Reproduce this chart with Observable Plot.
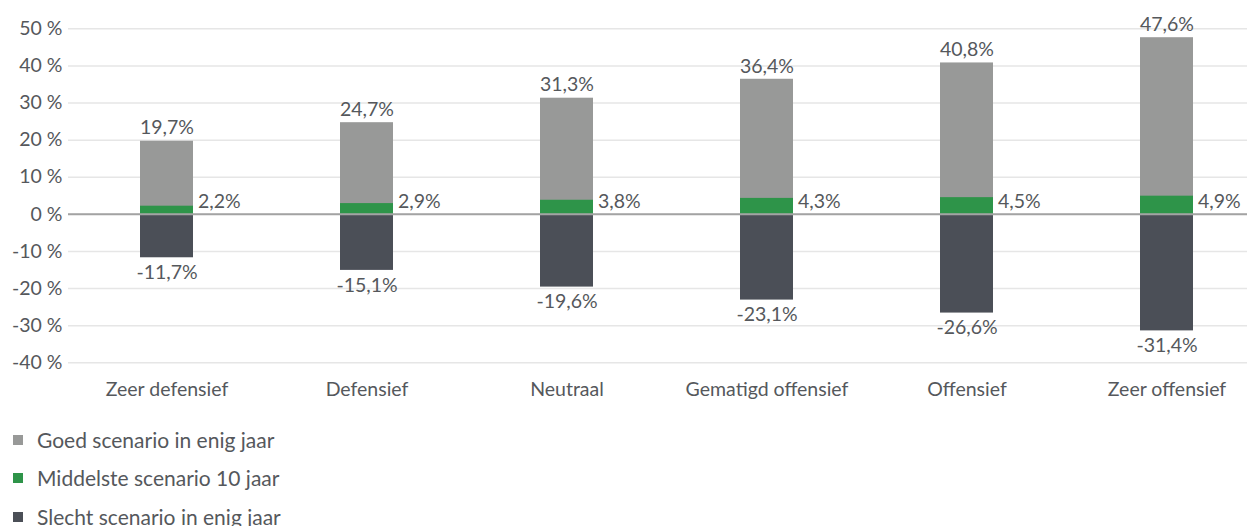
<!DOCTYPE html>
<html>
<head>
<meta charset="utf-8">
<script src="https://cdn.jsdelivr.net/npm/d3@7"></script>
<script src="https://cdn.jsdelivr.net/npm/@observablehq/plot@0.6"></script>
<style>
  html, body { margin: 0; padding: 0; background: #fff; }
  body { font-family: Lato, "Noto Sans", sans-serif; color: #55585c; width: 1247px; }
  #legend { padding-top: 15.5px; }
  .item { height: 38.5px; line-height: 38.5px; font-size: 21px; display: flex; align-items: center; }
  .sw { width: 10px; height: 10px; margin-left: 13px; margin-right: 14px; flex: none; }
</style>
</head>
<body>
<div id="chart"></div>
<div id="legend"></div>
<script>
const categories = ["Zeer defensief", "Defensief", "Neutraal", "Gematigd offensief", "Offensief", "Zeer offensief"];
const goed = [19.7, 24.7, 31.3, 36.4, 40.8, 47.6];
const middel = [2.2, 2.9, 3.8, 4.3, 4.5, 4.9];
const slecht = [-11.7, -15.1, -19.6, -23.1, -26.6, -31.4];
const yTicks = [-40, -30, -20, -10, 0, 10, 20, 30, 40, 50];
const seriesNames = ["Goed scenario in enig jaar", "Middelste scenario 10 jaar", "Slecht scenario in enig jaar"];
const seriesColors = ["#989998", "#2e9449", "#4b4f57"];

const rows = categories.map((c, i) => ({cat: c, goed: goed[i], middel: middel[i], slecht: slecht[i]}));
const pct = v => d3.format(".1f")(v).replace("−", "-").replace(".", ",") + "%";
const textColor = "#55585c";
const fs = 19.5;

const chart = Plot.plot({
  width: 1247,
  height: 405,
  marginTop: 28.3,
  marginBottom: 42.7,
  marginLeft: 68,
  marginRight: 0,
  style: {fontFamily: "Lato, 'Noto Sans', sans-serif", fontSize: fs + "px", color: textColor, background: "#fff"},
  x: {domain: categories, range: [65.3, 1267.7], paddingInner: 0.736, paddingOuter: 0.368, label: null},
  y: {domain: [-40, 50], label: null},
  marks: [
    Plot.gridY(yTicks, {stroke: "#e6e6e6", strokeOpacity: 1, strokeWidth: 1.5}),
    Plot.barY(rows, {x: "cat", y1: 0, y2: "goed", fill: seriesColors[0]}),
    Plot.barY(rows, {x: "cat", y1: 0, y2: "middel", fill: seriesColors[1]}),
    Plot.barY(rows, {x: "cat", y1: 0, y2: "slecht", fill: seriesColors[2], insetTop: 1}),
    Plot.ruleY([0], {stroke: "#a3a3a3", strokeWidth: 2}),
    Plot.text(rows, {x: "cat", y: "goed", text: d => pct(d.goed), dy: -13, fill: textColor, fontSize: fs}),
    Plot.text(rows, {x: "cat", y: 0, text: d => pct(d.middel), dy: -13, dx: 31, textAnchor: "start", fill: textColor, fontSize: fs}),
    Plot.text(rows, {x: "cat", y: "slecht", text: d => pct(d.slecht), dy: 15, fill: textColor, fontSize: fs}),
    Plot.axisY(yTicks, {tickSize: 0, tickPadding: 6, tickFormat: d => `${d} %`, fontSize: fs, label: null}),
    Plot.axisX({tickSize: 0, tickPadding: 19, fontSize: fs, label: null})
  ]
});
document.getElementById("chart").append(chart);

const legend = document.getElementById("legend");
seriesNames.forEach((n, i) => {
  const row = document.createElement("div");
  row.className = "item";
  const sw = document.createElement("span");
  sw.className = "sw";
  sw.style.background = seriesColors[i];
  const t = document.createElement("span");
  t.textContent = n;
  row.append(sw, t);
  legend.append(row);
});
</script>
</body>
</html>
